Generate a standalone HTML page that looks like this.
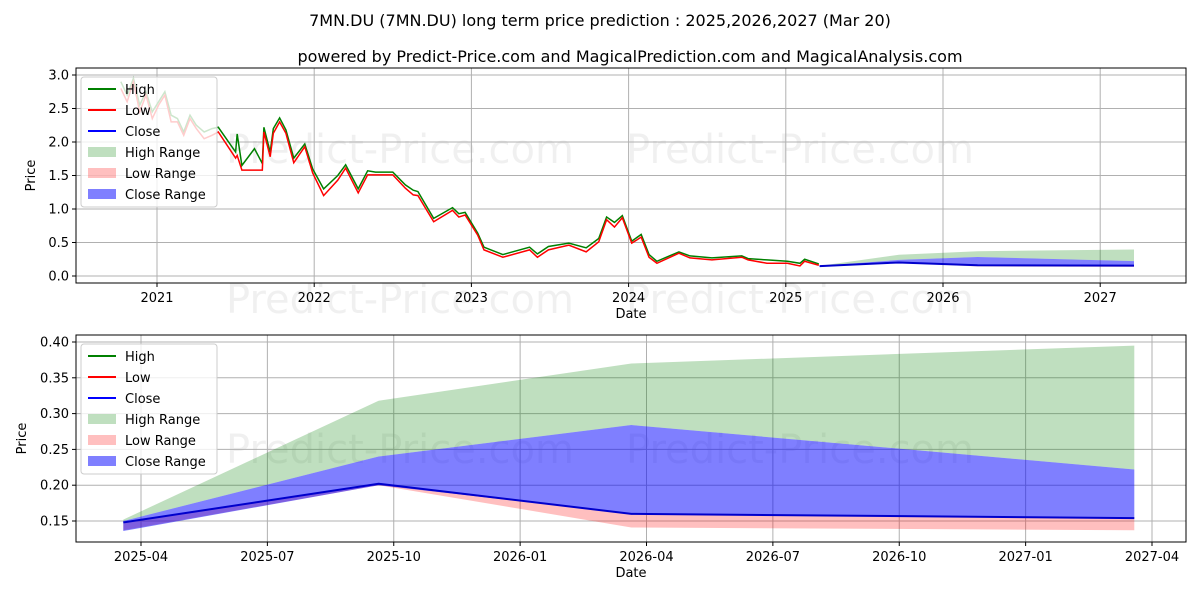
<!DOCTYPE html>
<html><head><meta charset="utf-8"><style>
body{margin:0;background:#fff}
svg{display:block;font-family:"DejaVu Sans","Liberation Sans",sans-serif}
</style></head><body>
<svg id="c" width="1200" height="600" xmlns="http://www.w3.org/2000/svg">
<rect width="1200" height="600" fill="#fff"/>
<text x="600" y="26" text-anchor="middle" font-size="16">7MN.DU (7MN.DU) long term price prediction : 2025,2026,2027 (Mar 20)</text>
<text x="630" y="62" text-anchor="middle" font-size="16">powered by Predict-Price.com and MagicalPrediction.com and MagicalAnalysis.com</text>
<g fill="#000" fill-opacity="0.06" font-size="40" text-anchor="middle">
<text x="400" y="163">Predict-Price.com</text><text x="800" y="163">Predict-Price.com</text>
<text x="400" y="313">Predict-Price.com</text><text x="800" y="313">Predict-Price.com</text>
<text x="400" y="463">Predict-Price.com</text><text x="800" y="463">Predict-Price.com</text>
</g>
<g id="top"></g><g id="bot"></g>
</svg>
<script>
// historical data (decimal year, high, low)
const histDates=[2020.77,2020.81,2020.85,2020.89,2020.93,2020.97,2021.01,2021.05,2021.09,2021.13,2021.17,2021.21,2021.25,2021.3,2021.35,2021.39,2021.5,2021.51,2021.54,2021.62,2021.67,2021.68,2021.72,2021.74,2021.78,2021.82,2021.87,2021.94,2021.99,2022.06,2022.15,2022.2,2022.28,2022.34,2022.39,2022.5,2022.58,2022.63,2022.66,2022.76,2022.88,2022.92,2022.96,2023.04,2023.08,2023.2,2023.37,2023.42,2023.49,2023.62,2023.73,2023.81,2023.86,2023.91,2023.96,2024.02,2024.08,2024.13,2024.18,2024.32,2024.39,2024.53,2024.72,2024.76,2024.88,2025.01,2025.09,2025.12,2025.21];
const histHigh=[2.9,2.7,2.95,2.55,2.75,2.45,2.6,2.75,2.4,2.35,2.15,2.4,2.25,2.15,2.2,2.22,1.85,2.12,1.65,1.9,1.68,2.22,1.85,2.2,2.36,2.18,1.76,1.97,1.6,1.3,1.5,1.66,1.3,1.57,1.55,1.55,1.36,1.28,1.26,0.86,1.02,0.93,0.95,0.64,0.43,0.32,0.43,0.33,0.44,0.49,0.42,0.56,0.88,0.8,0.9,0.52,0.62,0.32,0.22,0.36,0.3,0.27,0.3,0.26,0.24,0.22,0.19,0.25,0.18];
const histLow=[2.8,2.6,2.9,2.45,2.7,2.35,2.55,2.7,2.3,2.3,2.1,2.35,2.2,2.05,2.1,2.15,1.76,1.8,1.58,1.58,1.58,2.15,1.78,2.13,2.3,2.13,1.69,1.93,1.54,1.2,1.43,1.61,1.24,1.51,1.51,1.51,1.31,1.21,1.2,0.81,0.98,0.88,0.91,0.61,0.39,0.28,0.39,0.28,0.39,0.46,0.36,0.51,0.84,0.73,0.87,0.49,0.58,0.28,0.19,0.34,0.27,0.24,0.28,0.24,0.19,0.19,0.15,0.22,0.16];
// forecast
const fcDates=[2025.215,2025.72,2026.22,2027.215];
const highUpper=[0.152,0.318,0.370,0.395];
const closeUpper=[0.150,0.240,0.284,0.222];
const closeVals=[0.148,0.202,0.160,0.154];
const closeLower=[0.136,0.200,0.160,0.154];
const lowLower=[0.137,0.200,0.141,0.137];
const topYTicks=[0,0.5,1,1.5,2,2.5,3];
const topXTicks=[2021,2022,2023,2024,2025,2026,2027];
const botYTicks=[0.15,0.2,0.25,0.3,0.35,0.4];
const botXTicks=["2025-04","2025-07","2025-10","2026-01","2026-04","2026-07","2026-10","2027-01","2027-04"];

const NS="http://www.w3.org/2000/svg";
function mk(p,tag,a){const e=document.createElementNS(NS,tag);for(const k in a)e.setAttribute(k,a[k]);p.appendChild(e);return e;}
function tick2dec(s){const [y,m]=s.split('-').map(Number);return y+(m-1)/12;}

function drawPanel(g,o){
  const {x0,x1,y0,y1,sx,sy}=o;
  o.yt.forEach(v=>{const y=sy(v);
    const l=mk(g,'line',{x1:x0,x2:x1,y1:y,y2:y,stroke:'#b0b0b0','stroke-width':1});
    
    mk(g,'line',{x1:x0-4,x2:x0,y1:y,y2:y,stroke:'#000'});
    const t=mk(g,'text',{x:x0-7,y:y+4.5,'text-anchor':'end','font-size':13});t.textContent=o.yfmt(v);
    });
  o.xt.forEach(v=>{const x=sx(o.xv(v));
    const l=mk(g,'line',{x1:x,x2:x,y1:y0,y2:y1,stroke:'#b0b0b0','stroke-width':1});
    
    mk(g,'line',{x1:x,x2:x,y1:y1,y2:y1+4,stroke:'#000'});
    const t=mk(g,'text',{x:x,y:y1+19,'text-anchor':'middle','font-size':13});t.textContent=v;
    });
  const area=(up,lo,fill,op,name)=>{let d='M'+fcDates.map((t,i)=>sx(t)+','+sy(up[i])).join('L');
    for(let i=fcDates.length-1;i>=0;i--)d+='L'+sx(fcDates[i])+','+sy(lo[i]);
    const p=mk(g,'path',{d:d+'Z',fill:fill,'fill-opacity':op});
    };
  area(highUpper,closeUpper,'#008000',0.25,'high-range-area');
  area(closeVals,lowLower,'#ff0000',0.25,'low-range-area');
  area(closeUpper,closeLower,'#0000ff',0.5,'close-range-area');
  if(o.hist){
    const ph=mk(g,'polyline',{points:histDates.map((t,i)=>sx(t)+','+sy(histHigh[i])).join(' '),fill:'none',stroke:'#008000','stroke-width':1.5});
    
    const pl=mk(g,'polyline',{points:histDates.map((t,i)=>sx(t)+','+sy(histLow[i])).join(' '),fill:'none',stroke:'#ff0000','stroke-width':1.5});
    
  }
  const pc=mk(g,'polyline',{points:fcDates.map((t,i)=>sx(t)+','+sy(closeVals[i])).join(' '),fill:'none',stroke:'#0000cc','stroke-width':2});
  
  const fr=mk(g,'rect',{x:x0,y:y0,width:x1-x0,height:y1-y0,fill:'none',stroke:'#000','stroke-width':1});
  
  const xl=mk(g,'text',{x:(x0+x1)/2,y:y1+35,'text-anchor':'middle','font-size':13});xl.textContent='Date';
  
  const yl=mk(g,'text',{x:0,y:0,'text-anchor':'middle','font-size':13,transform:`translate(${o.ylx},${(y0+y1)/2}) rotate(-90)`});yl.textContent='Price';
  
  const lx=x0+5,ly=y0+9;
  const lg=mk(g,'g',{});
  mk(lg,'rect',{x:lx,y:ly,width:136,height:130,rx:3,fill:'#fff','fill-opacity':0.8,stroke:'#ccc'});
  const items=[['High','line','#008000',1],['Low','line','#ff0000',1],['Close','line','#0000ff',1],['High Range','box','#008000',0.25],['Low Range','box','#ff0000',0.25],['Close Range','box','#0000ff',0.5]];
  items.forEach((it,i)=>{const cy=ly+12+i*21;
    if(it[1]=='line')mk(lg,'line',{x1:lx+7,x2:lx+35,y1:cy,y2:cy,stroke:it[2],'stroke-width':2});
    else mk(lg,'rect',{x:lx+7,y:cy-5,width:28,height:10,fill:it[2],'fill-opacity':it[3]});
    const t=mk(lg,'text',{x:lx+44,y:cy+5,'font-size':13});t.textContent=it[0];
    });
}
drawPanel(document.getElementById('top'),{x0:76,x1:1186,y0:68,y1:283,
  sx:t=>157+(t-2021)*157.2, sy:v=>276-v*67, yt:topYTicks, xt:topXTicks, xv:v=>v, yfmt:v=>v.toFixed(1), hist:true, ylx:35});
drawPanel(document.getElementById('bot'),{x0:76,x1:1186,y0:335,y1:542,
  sx:t=>141+(t-2025.25)*505.5, sy:v=>521-(v-0.15)*716, yt:botYTicks, xt:botXTicks, xv:tick2dec, yfmt:v=>v.toFixed(2), hist:false, ylx:26});
</script>
</body></html>
